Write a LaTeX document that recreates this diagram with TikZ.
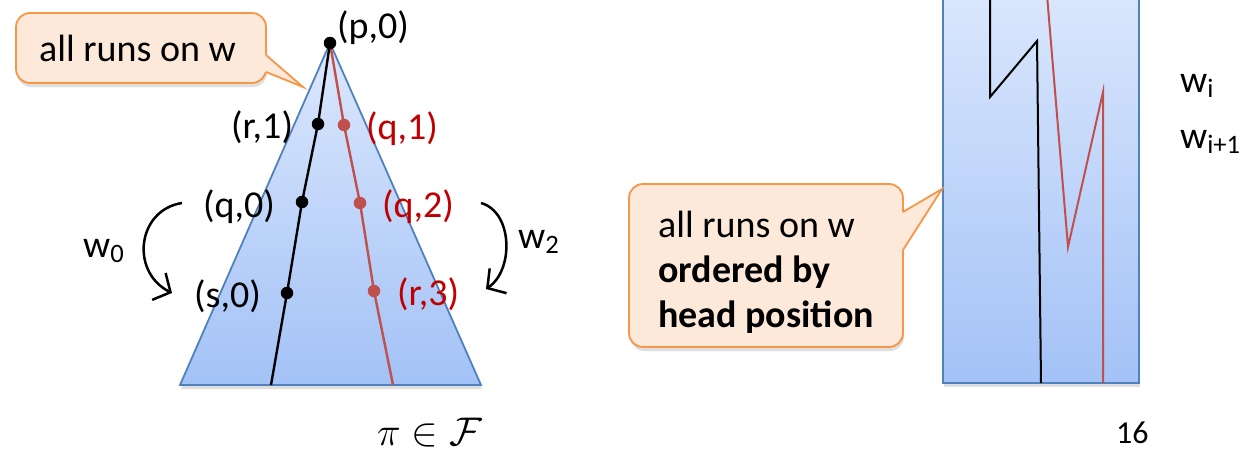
\documentclass[tikz,border=0pt]{standalone}
\usepackage{fix-cm}
\usepackage{fontspec}
\setmainfont{Carlito}
\usetikzlibrary{arrows.meta,shadows}

\definecolor{treeline}{HTML}{4F81BD}
\definecolor{treetop}{HTML}{DCE8FD}
\definecolor{treebot}{HTML}{A3C2F6}
\definecolor{runred}{HTML}{C0504D}
\definecolor{labred}{HTML}{C00000}
\definecolor{bubline}{HTML}{F79646}
\definecolor{bubfill}{HTML}{FDE9D9}

\begin{document}
\begin{tikzpicture}[x=1pt, y=-1pt,
  tree/.style={draw=treeline, line width=1.8pt, top color=treetop, bottom color=treebot,
    drop shadow={shadow xshift=1pt, shadow yshift=-4pt, opacity=0.25}},
  bubble/.style={draw=bubline, line width=1.8pt, fill=bubfill, rounded corners=14pt,
    drop shadow={shadow xshift=1pt, shadow yshift=-4pt, opacity=0.25}},
  lab/.style={font=\fontsize{38}{45}\selectfont, inner sep=0pt, anchor=base west},
  dot/.style={circle, fill, inner sep=0pt, minimum size=12.5pt},
  run/.style={line width=2.4pt, line join=round},
  turn/.style={line width=2.5pt, -{Straight Barb[length=13pt, width=30pt, line width=2.5pt]}}
]
\useasboundingbox (0,0) rectangle (1246,452);

% tree of runs
\filldraw[tree] (330,43) -- (481,385) -- (180,385) -- cycle;
\coordinate (cp) at (330,43);
\coordinate (cr1) at (318,124);
\coordinate (cq0) at (302,202);
\coordinate (cs0) at (287,293);
\coordinate (cbot) at (271,385);
\coordinate (cq1) at (344,125);
\coordinate (cq2) at (360,203);
\coordinate (cr3) at (374,291);
\coordinate (crbot) at (393,385);
\draw[run, runred] (cp) -- (cq1) -- (cq2) -- (cr3) -- (crbot);
\draw[run] (cp) -- (cr1) -- (cq0) -- (cs0) -- (cbot);
\node[dot, runred] (dq1) at (cq1) {};
\node[dot, runred] (dq2) at (cq2) {};
\node[dot, runred] (dr3) at (cr3) {};
\node[dot] (dr1) at (cr1) {};
\node[dot] (dq0) at (cq0) {};
\node[dot] (ds0) at (cs0) {};
\node[dot] (dp) at (cp) {};

\node[lab] (pz) at (337,38) {(p,0)};
\node[lab] (rone) at (231,138) {(r,1)};
\node[lab] (qzero) at (203,217) {(q,0)};
\node[lab] (szero) at (194,307) {(s,0)};
\node[lab, labred] (qone) at (366,139) {(q,1)};
\node[lab, labred] (qtwo) at (382,217) {(q,2)};
\node[lab, labred] (rthree) at (397,305) {(r,3)};

% word arrows
\coordinate (lstart) at (182,203);
\coordinate (lend) at (172,293);
\coordinate (rstart) at (481,203);
\coordinate (rend) at (486,289);
\draw[turn] (lstart) .. controls (137,210) and (130,272) .. (lend);
\draw[turn] (rstart) .. controls (513,212) and (514,270) .. (rend);
\node[lab] (wzero) at (83,257) {w\textsubscript{0}};
\node[lab] (wtwo) at (518,248) {w\textsubscript{2}};

\node[lab, font=\fontsize{40}{45}\selectfont] (pifam) at (377,445) {$\pi \in \mathcal{F}$};

% first callout
\draw[bubble] (16,13) rectangle (266,83);
\fill[bubfill] (258,55) -- (266,55) -- (303,87) -- (266,72) -- (258,72) -- cycle;
\draw[bubline, line width=1.8pt] (266,55) -- (303,87) -- (266,72);
\node[lab] (callone) at (39,62) {all runs on w};

% ordered runs
\filldraw[tree] (943,-20) rectangle (1139,383);
\draw[line width=2pt] (990,-5) -- (990,97) -- (1037,41) -- (1041,383);
\draw[line width=2pt, runred] (1047,-5) -- (1068,247) -- (1103,92) -- (1103,383);

% second callout
\draw[bubble] (629,184) rectangle (903,347);
\fill[bubfill] (895,212) -- (903,212) -- (942,189) -- (903,250) -- (895,250) -- cycle;
\draw[bubline, line width=1.8pt] (903,212) -- (942,189) -- (903,250);
\node[lab] (calltwo) at (658,237) {all runs on w};
\node[lab, font=\fontsize{38}{45}\bfseries] (ordby) at (658,282) {ordered by};
\node[lab, font=\fontsize{38}{45}\bfseries] (headpos) at (658,327) {head position};

\node[lab] (wi) at (1180,92) {w\textsubscript{i}};
\node[lab] (wii) at (1180,148) {w\textsubscript{i+1}};
\node[lab, font=\fontsize{32}{38}\selectfont] (pagenum) at (1116,443) {16};
\end{tikzpicture}
\end{document}
